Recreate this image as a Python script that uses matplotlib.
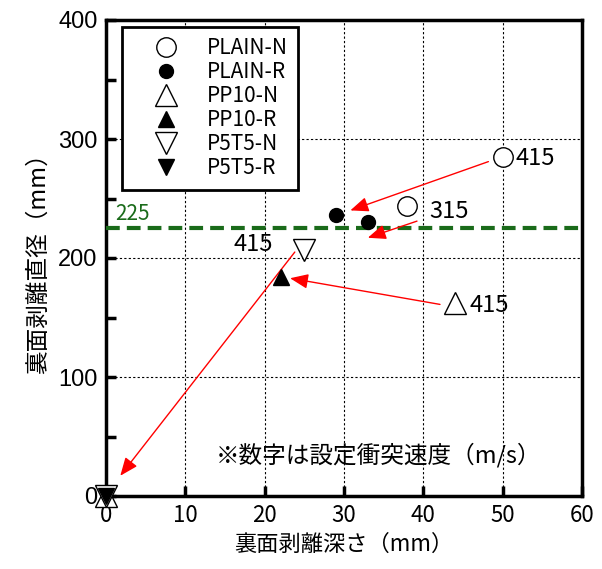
import matplotlib
matplotlib.use('Agg')
import matplotlib.pyplot as plt

plt.rcParams['font.family'] = ['Noto Sans CJK JP', 'DejaVu Sans']

# データ（深さ mm, 直径 mm）
plain_n_x = [50, 38]
plain_n_y = [285, 244]
plain_r_x = [29, 33]
plain_r_y = [236, 230]
pp10_n_x = [44, 0]
pp10_n_y = [162, 0]
pp10_r_x = [22]
pp10_r_y = [184]
p5t5_n_x = [25, 0]
p5t5_n_y = [207, 0]
p5t5_r_x = [0]
p5t5_r_y = [0]

# 設定衝突速度ラベル
speed_labels = ['415', '315', '415', '415']
speed_x = [51.6, 40.8, 45.8, 21.0]
speed_y = [284, 239, 160, 211]

# 矢印（始点 → 終点）
arrow_from = [(48.2, 281), (39.2, 231), (42.1, 161), (23.8, 205)]
arrow_to = [(30.8, 240), (33.0, 217), (23.2, 183), (1.8, 17)]

threshold = 225

fig = plt.figure(figsize=(6.02, 5.69), dpi=100)
ax = fig.add_axes([106/602, 1 - 496/569, 476/602, 476/569])

ax.plot(plain_n_x, plain_n_y, 'o', ms=14, mfc='white', mec='black', mew=1, label='PLAIN-N', clip_on=False, zorder=5)
ax.plot(plain_r_x, plain_r_y, 'o', ms=10, mfc='black', mec='black', label='PLAIN-R', clip_on=False, zorder=5)
ax.plot(pp10_n_x, pp10_n_y, '^', ms=16, mfc='white', mec='black', mew=1, label='PP10-N', clip_on=False, zorder=5)
ax.plot(pp10_r_x, pp10_r_y, '^', ms=11, mfc='black', mec='black', label='PP10-R', clip_on=False, zorder=5)
ax.plot(p5t5_n_x, p5t5_n_y, 'v', ms=16, mfc='white', mec='black', mew=1, label='P5T5-N', clip_on=False, zorder=5)
ax.plot(p5t5_r_x, p5t5_r_y, 'v', ms=11, mfc='black', mec='black', label='P5T5-R', clip_on=False, zorder=6)

# 閾値ライン
ax.axhline(threshold, color='#1a6b1a', lw=3, ls=(0, (3.3, 1.7)), zorder=3)
ax.text(1.1, threshold + 2.5, str(threshold), color='#1a6b1a', fontsize=15,
        ha='left', va='bottom')

# 矢印
for (x0, y0), (x1, y1) in zip(arrow_from, arrow_to):
    ax.annotate('', xy=(x1, y1), xytext=(x0, y0),
                arrowprops=dict(arrowstyle='-|>,head_length=1.1,head_width=0.45',
                                color='red', lw=1, shrinkA=0, shrinkB=0),
                zorder=4)

for s, x, y in zip(speed_labels, speed_x, speed_y):
    ha = 'right' if x < 30 else 'left'
    ax.text(x, y, s, fontsize=17, ha=ha, va='center')

ax.text(34.3, 34, '※数字は設定衝突速度（m/s）', fontsize=17, ha='center', va='center')

ax.set_xlim(0, 60)
ax.set_ylim(0, 400)
ax.set_xticks(range(0, 61, 10))
ax.set_yticks(range(0, 401, 100))
ax.set_yticks(range(50, 400, 100), minor=True)
ax.tick_params(direction='in', length=7, width=2.5, labelsize=16, pad=6)
ax.tick_params(which='minor', direction='in', length=7, width=2.5)
for lab in ax.get_yticklabels():
    lab.set_family('Liberation Sans')
    lab.set_fontsize(17)
ax.grid(True, ls=(0, (2, 2)), color='black', lw=0.8)
for sp in ax.spines.values():
    sp.set_linewidth(2.5)

ax.set_xlabel('裏面剥離深さ（mm）', fontsize=16, labelpad=4)
ax.set_ylabel('裏面剥離直径（mm）', fontsize=17, labelpad=6)

leg = ax.legend(loc='upper left', bbox_to_anchor=(0.025, 0.995), fontsize=15,
                frameon=True, fancybox=False, edgecolor='black', framealpha=1,
                labelspacing=0.1, handletextpad=0.35, borderpad=0.5,
                borderaxespad=0.2, handlelength=3.2, numpoints=1)
leg.get_frame().set_linewidth(2)

fig.savefig('out.png', dpi=100)
